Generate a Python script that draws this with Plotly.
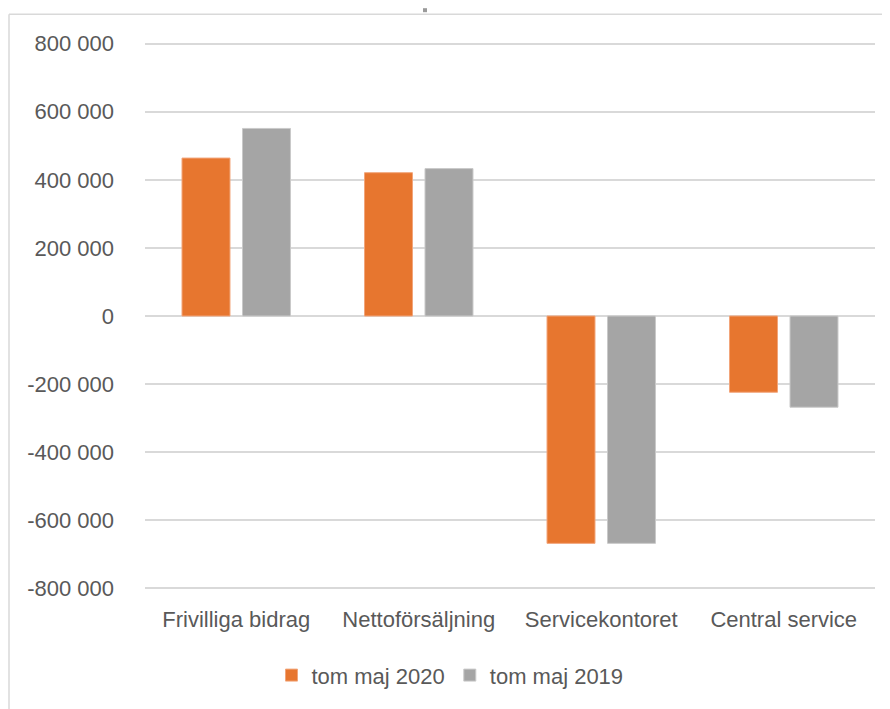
import plotly.graph_objects as go

categories = ["Frivilliga bidrag", "Nettoförsäljning", "Servicekontoret", "Central service"]
series_names = ["tom maj 2020", "tom maj 2019"]
values_2020 = [464000, 421000, -668000, -224000]
values_2019 = [551000, 433000, -668000, -268000]
tick_values = [-800000, -600000, -400000, -200000, 0, 200000, 400000, 600000, 800000]
tick_labels = [f"{v:,}".replace(",", " ") for v in tick_values]

# page body has an 8px margin, so figure coords are shifted by -8 px
OFF = 8
W, H = 890 - OFF, 709 - OFF
L, R = 145 - OFF, 875 - OFF
T, B = 41.8 - OFF, 589.7 - OFF

def px_x(px):
    return (px - OFF - L) / (R - L)

def px_y(py):
    return (B - (py - OFF)) / (B - T)

font = "Liberation Sans, Arial, sans-serif"
txt = "#595959"
grid = "#D9D9D9"

fig = go.Figure()
fig.add_trace(go.Bar(x=categories, y=values_2020, name=series_names[0],
                     marker=dict(color="#E7762F", line=dict(color="#F2A57A", width=1))))
fig.add_trace(go.Bar(x=categories, y=values_2019, name=series_names[1],
                     marker=dict(color="#A5A5A5", line=dict(color="#C9C9C9", width=1))))

fig.update_layout(
    width=W, height=H,
    margin=dict(l=L, r=W - R, t=T, b=H - B, pad=0),
    paper_bgcolor="white", plot_bgcolor="white",
    barmode="group", bargap=0.337, bargroupgap=0.207,
    font=dict(family=font, size=22, color=txt),
    showlegend=True,
    legend=dict(orientation="h", x=px_x(450), xanchor="center", y=px_y(675), yanchor="middle",
                font=dict(family=font, size=22, color=txt), itemwidth=30,
                bgcolor="rgba(0,0,0,0)"),
    xaxis=dict(showgrid=False, showline=False, ticks="", ticklabelstandoff=14,
               tickfont=dict(family=font, size=22, color=txt)),
    yaxis=dict(range=[-805000, 805000], tickvals=tick_values, ticktext=tick_labels,
               showgrid=True, gridcolor=grid, gridwidth=1.5,
               zeroline=True, zerolinecolor=grid, zerolinewidth=1.5,
               showline=False, ticks="", ticklabelstandoff=30,
               tickfont=dict(family=font, size=22, color=txt)),
    shapes=[
        dict(type="line", xref="paper", yref="paper", x0=px_x(9), x1=px_x(890), y0=px_y(14), y1=px_y(14),
             line=dict(color="#D9D9D9", width=1.5)),
        dict(type="line", xref="paper", yref="paper", x0=px_x(9), x1=px_x(9), y0=px_y(14), y1=px_y(709),
             line=dict(color="#D9D9D9", width=1.5)),
        dict(type="rect", xref="paper", yref="paper", x0=px_x(423), x1=px_x(427), y0=px_y(8), y1=px_y(12),
             line=dict(width=0), fillcolor="#9A9A9A"),
    ],
)

fig.write_html("out.html")
